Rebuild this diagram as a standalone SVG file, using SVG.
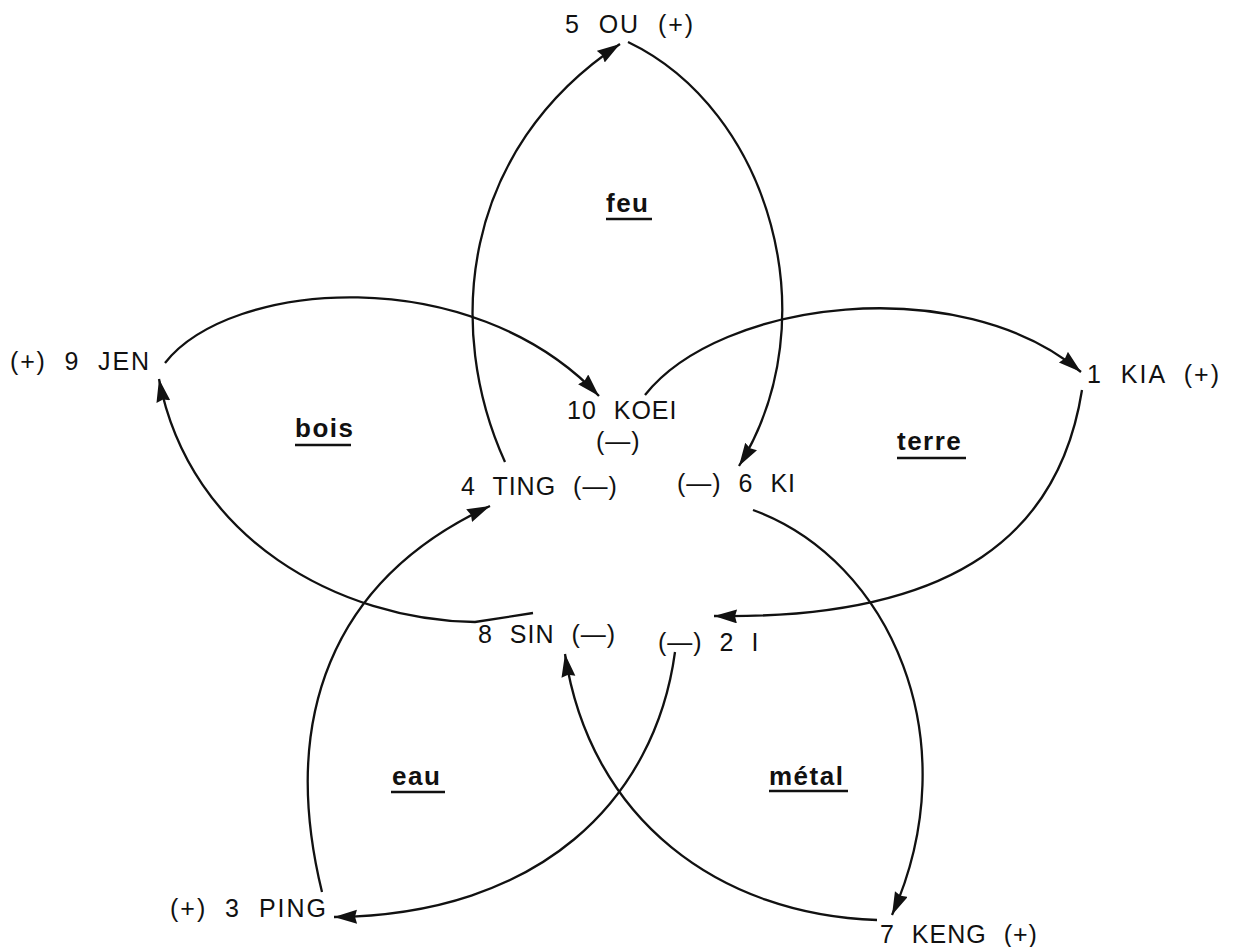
<svg xmlns="http://www.w3.org/2000/svg" width="1233" height="947" viewBox="0 0 1233 947">
<style>
.lbl{font-family:"Liberation Sans",Arial,sans-serif;font-size:25px;fill:#111;word-spacing:9px;letter-spacing:1px}
.el{font-family:"Liberation Sans",Arial,sans-serif;font-size:26px;font-weight:bold;fill:#111;letter-spacing:1.5px}
.ul{stroke:#111;stroke-width:2.6}
.arc{fill:none;stroke:#111;stroke-width:2.3}
</style>
<defs>
<marker id="ah" markerUnits="userSpaceOnUse" markerWidth="26" markerHeight="16" refX="23" refY="7" orient="auto">
<path d="M0,0 L23,7 L0,14 L2,7 z" fill="#111"/>
</marker>
</defs>
<rect width="1233" height="947" fill="#fff"/>
<g id="connectors">
<path class="arc" d="M505,462 C445,330 460,150 620,44" marker-end="url(#ah)"/>
<path class="arc" d="M628,42 C770,110 830,320 739,466" marker-end="url(#ah)"/>
<path class="arc" d="M165,363 C230,280 470,260 599,396" marker-end="url(#ah)"/>
<path class="arc" d="M533,613 L475,622 C340,620 190,540 159,379" marker-end="url(#ah)"/>
<path class="arc" d="M645,395 C720,300 960,270 1081,372" marker-end="url(#ah)"/>
<path class="arc" d="M1082,390 C1060,530 960,620 714,616" marker-end="url(#ah)"/>
<path class="arc" d="M753,510 C890,560 970,740 892,915" marker-end="url(#ah)"/>
<path class="arc" d="M877,920 C720,915 590,820 565,654" marker-end="url(#ah)"/>
<path class="arc" d="M675,652 C655,800 540,915 334,917" marker-end="url(#ah)"/>
<path class="arc" d="M322,892 C280,720 330,580 490,506" marker-end="url(#ah)"/>
</g>
<g id="n5"><text class="lbl" x="565" y="33" textLength="129" lengthAdjust="spacing">5 OU (+)</text></g>
<g id="n9"><text class="lbl" x="10" y="370" textLength="140" lengthAdjust="spacing">(+) 9 JEN</text></g>
<g id="n10"><text class="lbl" x="567" y="419">10 KOEI</text><text class="lbl" x="596" y="450">(—)</text></g>
<g id="n4"><text class="lbl" x="461" y="495">4 TING (—)</text></g>
<g id="n6"><text class="lbl" x="677" y="492">(—) 6 KI</text></g>
<g id="n1"><text class="lbl" x="1087" y="383" textLength="133" lengthAdjust="spacing">1 KIA (+)</text></g>
<g id="n8"><text class="lbl" x="478" y="643">8 SIN (—)</text></g>
<g id="n2"><text class="lbl" x="658" y="651">(—) 2 I</text></g>
<g id="n3"><text class="lbl" x="170" y="917" textLength="157" lengthAdjust="spacing">(+) 3 PING</text></g>
<g id="n7"><text class="lbl" x="880" y="943">7 KENG (+)</text></g>
<g id="feu"><text class="el" x="606" y="212">feu</text><line class="ul" x1="606" y1="219" x2="652" y2="219"/></g>
<g id="bois"><text class="el" x="295" y="437">bois</text><line class="ul" x1="295" y1="445" x2="351" y2="445"/></g>
<g id="terre"><text class="el" x="897" y="450">terre</text><line class="ul" x1="897" y1="458" x2="966" y2="458"/></g>
<g id="eau"><text class="el" x="392" y="785">eau</text><line class="ul" x1="391" y1="792" x2="445" y2="792"/></g>
<g id="metal"><text class="el" x="769" y="785">métal</text><line class="ul" x1="769" y1="791" x2="848" y2="791"/></g>
</svg>
